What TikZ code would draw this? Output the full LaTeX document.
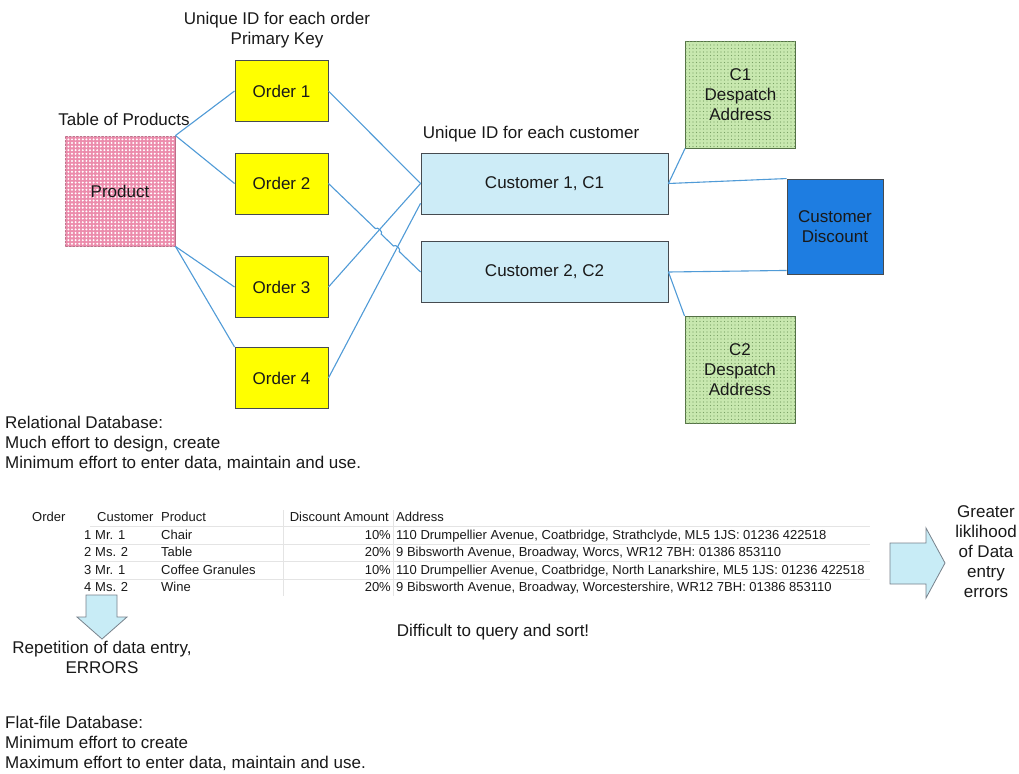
\documentclass[tikz,border=0pt]{standalone}
\usepackage{fontspec}
\setmainfont{Liberation Sans}
\usetikzlibrary{calc,patterns.meta}

\definecolor{linkblue}{RGB}{80,155,215}
\definecolor{edgegrey}{RGB}{70,75,80}
\definecolor{orderyellow}{RGB}{255,255,0}
\definecolor{custcyan}{RGB}{205,236,247}
\definecolor{discblue}{RGB}{30,125,225}
\definecolor{prodpink}{RGB}{236,140,172}
\definecolor{addrgreen}{RGB}{200,232,175}
\definecolor{addrdots}{RGB}{120,160,100}
\definecolor{inkdark}{RGB}{25,25,25}
\definecolor{gridgrey}{RGB}{228,228,228}
\definecolor{arrowfill}{RGB}{200,236,246}
\definecolor{arrowedge}{RGB}{120,130,140}

\newcommand\lblfont{\fontsize{17}{20}\selectfont}
\newcommand\tblfont{\fontsize{13}{15}\selectfont}

\begin{document}
\begin{tikzpicture}[x=1pt,y=-1pt,
  every node/.style={text=inkdark},
  box/.style={draw=edgegrey, line width=0.9pt, inner sep=0pt, align=center, font=\lblfont},
  orderbox/.style={box, fill=orderyellow, minimum width=93pt, minimum height=61pt},
  custbox/.style={box, fill=custcyan, minimum width=247pt, minimum height=61pt},
  prodbox/.style={box, draw=prodpink!80!black, fill=prodpink,
    postaction={pattern={Dots[distance=3.6pt, radius=1.1pt]}, pattern color=white},
    minimum width=110pt, minimum height=110pt},
  addrbox/.style={box, draw=addrdots!70!black, fill=addrgreen,
    postaction={pattern={Dots[distance=3.5pt, radius=0.55pt]}, pattern color=addrdots},
    minimum width=110pt, minimum height=107pt},
  discbox/.style={box, draw=edgegrey, fill=discblue, minimum width=96pt, minimum height=95pt},
  caption/.style={font=\lblfont, align=center, inner sep=0pt},
  note/.style={font=\lblfont, align=left, inner sep=0pt, anchor=west},
  link/.style={draw=linkblue, line width=1.1pt},
  cell/.style={font=\tblfont, inner sep=0pt, text height=9.5pt, text depth=2.5pt},
  blockarrow/.style={fill=arrowfill, draw=arrowedge, line width=0.8pt, line join=miter}
]
\path[use as bounding box, fill=white] (0,0) rectangle (1019,773);

% ---------- relational model ----------
\node[caption] (ordercap) at (277,30) {Unique ID for each order\\Primary Key};
\node[caption] (prodcap) at (124,119) {Table of Products};
\node[caption] (custcap) at (531,134) {Unique ID for each customer};

\node[prodbox] (prod) at (120,191) {Product};

\node[orderbox] (o1) at (281.5,91)    {Order 1};
\node[orderbox] (o2) at (281.5,183.5) {Order 2};
\node[orderbox] (o3) at (281.5,287)   {Order 3};
\node[orderbox] (o4) at (281.5,378)   {Order 4};

\node[custbox] (c1) at (544.5,183.5) {Customer 1, C1};
\node[custbox] (c2) at (544.5,272)   {Customer 2, C2};

\node[addrbox] (d1) at (740.5,94.5) {C1\\Despatch\\Address};
\node[addrbox] (d2) at (740,370)    {C2\\Despatch\\Address};
\node[discbox] (disc) at (835,226.5) {Customer\\Discount};

% products to orders
\draw[link] (prod.north east) -- (o1.west);
\draw[link] (prod.north east) -- (o2.west);
\draw[link] (prod.south east) -- (o3.west);
\draw[link] (prod.south east) -- (o4.north west);

% orders to customers
\coordinate (c1lo) at ($(c1.south west)!0.18!(c1.north west)$);
\draw[link] (o1.east) -- (c1.west);
\draw[link] (o3.east) -- (c1.west);
\draw[link] (o4.east) -- (c1lo);
\draw[link] (o2.east) -- ($(o2.east)!0.51!(c2.west)$)
  to[bend left=90] ($(o2.east)!0.573!(c2.west)$)
  -- ($(o2.east)!0.706!(c2.west)$)
  to[bend left=90] ($(o2.east)!0.769!(c2.west)$)
  -- (c2.west);

% customers to addresses and discount
\draw[link] (c1.east) -- (d1.south west);
\draw[link] (c1.east) -- (disc.north west);
\draw[link] (c2.east) -- ($(disc.south west)+(0,-4)$);
\draw[link] (c2.east) -- (d2.north west);

\node[note] (relnote) at (5,443)
  {Relational Database:\\Much effort to design, create\\Minimum effort to enter data, maintain and use.};

% ---------- flat-file table ----------
\foreach \yy in {526.5,544,561.5,579}
  \draw[gridgrey, line width=0.6pt] (90,\yy) -- (870,\yy);
\draw[gridgrey, line width=0.6pt] (283.5,510) -- (283.5,596);
\draw[gridgrey, line width=0.6pt] (393,510) -- (393,596);

\node[cell, anchor=west] (hord)  at (32,518)  {Order};
\node[cell, anchor=west] (hcus)  at (97,518)  {Customer};
\node[cell, anchor=west] (hpro)  at (161,518) {Product};
\node[cell, anchor=east] (hdis)  at (389,518) {Discount Amount};
\node[cell, anchor=west] (hadr)  at (396,518) {Address};

\foreach \n/\cust/\prd/\pct/\addr [count=\r] in {
  1/Mr. 1/Chair/10\%/{110 Drumpellier Avenue, Coatbridge, Strathclyde, ML5 1JS: 01236 422518},
  2/Ms. 2/Table/20\%/{9 Bibsworth Avenue, Broadway, Worcs, WR12 7BH: 01386 853110},
  3/Mr. 1/Coffee Granules/10\%/{110 Drumpellier Avenue, Coatbridge, North Lanarkshire, ML5 1JS: 01236 422518},
  4/Ms. 2/Wine/20\%/{9 Bibsworth Avenue, Broadway, Worcestershire, WR12 7BH: 01386 853110}}
{
  \pgfmathsetmacro\yy{518+17.5*\r}
  \node[cell, anchor=east] (num\r)  at (91.5,\yy) {\n};
  \node[cell, anchor=west] (cus\r)  at (95,\yy)   {\cust};
  \node[cell, anchor=west] (pro\r)  at (161,\yy)  {\prd};
  \node[cell, anchor=east] (pct\r)  at (391,\yy)  {\pct};
  \node[cell, anchor=west] (adr\r)  at (396,\yy)  {\addr};
}

% block arrows
\draw[blockarrow] (86,595) -- (117,595) -- (117,617) -- (127,617) -- (102,639)
  -- (77,617) -- (86,617) -- cycle;
\draw[blockarrow] (890,543) -- (926,543) -- (926,528) -- (945,563) -- (926,598)
  -- (926,584) -- (890,584) -- cycle;

\node[caption] (errcap) at (102,657) {Repetition of data entry,\\ERRORS};
\node[caption] (querycap) at (493,632) {Difficult to query and sort!};
\node[caption, align=center] (likecap) at (986,552)
  {Greater\\liklihood\\of Data\\entry\\errors};

\node[note] (flatnote) at (5,743)
  {Flat-file Database:\\Minimum effort to create\\Maximum effort to enter data, maintain and use.};

\end{tikzpicture}
\end{document}
